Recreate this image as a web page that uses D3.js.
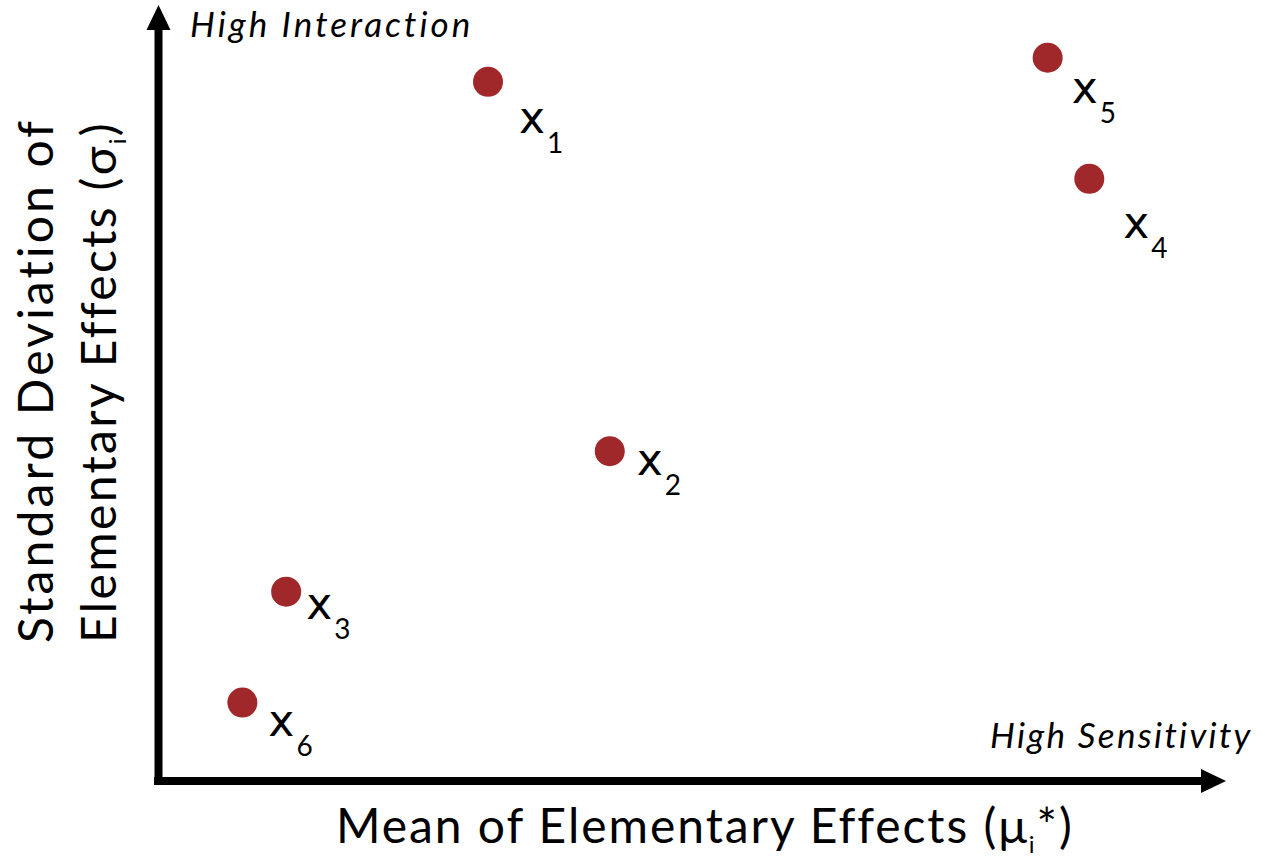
<!DOCTYPE html>
<html>
<head>
<meta charset="utf-8">
<script src="https://cdn.jsdelivr.net/npm/d3@7"></script>
<style>
  html, body { margin: 0; padding: 0; background: #fff; }
  svg { display: block; }
  text { font-family: Lato, "Open Sans", sans-serif; fill: #000; }
</style>
</head>
<body>
<svg id="chart" width="1265" height="863"></svg>
<script>
// Morris screening: mean of absolute elementary effects vs their standard deviation
const factors = ["1", "2", "3", "4", "5", "6"];
const muStar  = [3.09, 4.23, 1.20, 8.72, 8.33, 0.79];
const sigma   = [9.01, 4.25, 2.44, 7.76, 9.32, 1.01];

const xTitle = "Mean of Elementary Effects (μ";
const yTitleLine1 = "Standard Deviation of";
const yTitleLine2 = "Elementary Effects (σ";
const cornerTop = "High Interaction";
const cornerRight = "High Sensitivity";

const svg = d3.select("#chart");

const x = d3.scaleLinear().domain([0, 10]).range([158, 1226]);
const y = d3.scaleLinear().domain([0, 10]).range([781, 5]);

const axisStroke = 8;
const headLen = 25, headHalf = 12;

// Spread the letters of a text element so it spans the given width
function spreadTo(sel, width) {
  const node = sel.node();
  const w = node.getComputedTextLength();
  const n = node.textContent.length;
  if (n > 1) sel.attr("letter-spacing", (width - w) / (n - 1));
}

// Axes: bare domain lines, no ticks
const gx = svg.append("g")
  .attr("transform", `translate(0,${y(0)})`)
  .call(d3.axisBottom(x).tickValues([]).tickSizeOuter(0));
gx.select(".domain")
  .attr("d", `M${x(0) - axisStroke / 2},0H${x.range()[1] - headLen + 1}`)
  .attr("stroke", "#000").attr("stroke-width", axisStroke);

const gy = svg.append("g")
  .attr("transform", `translate(${x(0) + 0.5},0)`)
  .call(d3.axisLeft(y).tickValues([]).tickSizeOuter(0));
gy.select(".domain")
  .attr("d", `M0,${y(0) + axisStroke / 2}V${y.range()[1] + headLen - 1}`)
  .attr("stroke", "#000").attr("stroke-width", axisStroke);

// Arrowheads at the ends of both axes
const xEnd = x.range()[1], yEnd = y.range()[1];
svg.append("path")
  .attr("d", `M${xEnd},${y(0)}L${xEnd - headLen},${y(0) - headHalf}L${xEnd - headLen},${y(0) + headHalf}Z`)
  .attr("fill", "#000");
svg.append("path")
  .attr("d", `M${x(0) + 0.5},${yEnd}L${x(0) + 0.5 - headHalf},${yEnd + headLen}L${x(0) + 0.5 + headHalf},${yEnd + headLen}Z`)
  .attr("fill", "#000");

// Points
const pts = factors.map((f, i) => ({ f, mu: muStar[i], s: sigma[i] }));
svg.append("g").selectAll("circle")
  .data(pts)
  .join("circle")
  .attr("cx", d => x(d.mu))
  .attr("cy", d => y(d.s))
  .attr("r", 15)
  .attr("fill", "#A0282B");

// Label placement relative to each point (dx, dy to the baseline of "x")
const labelOffset = {
  "1": [31, 51], "2": [27, 24], "3": [20, 27],
  "4": [34, 59], "5": [24, 45], "6": [26, 33]
};
const lab = svg.append("g").selectAll("text")
  .data(pts)
  .join("text")
  .attr("x", d => x(d.mu) + labelOffset[d.f][0])
  .attr("y", d => y(d.s) + labelOffset[d.f][1]);
lab.append("tspan")
  .style("font-family", "'DejaVu Sans', sans-serif")
  .attr("font-size", 44)
  .text("x");
lab.append("tspan")
  .attr("dx", 2)
  .attr("dy", 20)
  .attr("font-size", 28)
  .text(d => d.f);

// Corner annotations
const tTop = svg.append("text")
  .attr("x", 190).attr("y", 37)
  .attr("font-size", 35).attr("font-style", "italic")
  .text(cornerTop);
spreadTo(tTop, 280);
const tRight = svg.append("text")
  .attr("x", 990).attr("y", 748)
  .attr("font-size", 35).attr("font-style", "italic")
  .text(cornerRight);
spreadTo(tRight, 260);

// Axis titles
const xt = svg.append("text")
  .attr("x", 336).attr("y", 843)
  .attr("font-size", 48);
xt.append("tspan").text(xTitle);
xt.append("tspan").attr("font-size", 24).attr("dy", 10).text("i");
xt.append("tspan").attr("dy", -10).text("*)");
spreadTo(xt, 734);

const yt = svg.append("g").attr("transform", "rotate(-90)");
const yt1 = yt.append("text")
  .attr("x", -643).attr("y", 53)
  .attr("font-size", 48)
  .text(yTitleLine1);
spreadTo(yt1, 523);
const yt2 = yt.append("text")
  .attr("x", -643).attr("y", 116)
  .attr("font-size", 48);
yt2.append("tspan").text(yTitleLine2);
yt2.append("tspan").attr("font-size", 24).attr("dy", 10).text("i");
yt2.append("tspan").attr("dy", -10).text(")");
spreadTo(yt2, 518);
</script>
</body>
</html>
